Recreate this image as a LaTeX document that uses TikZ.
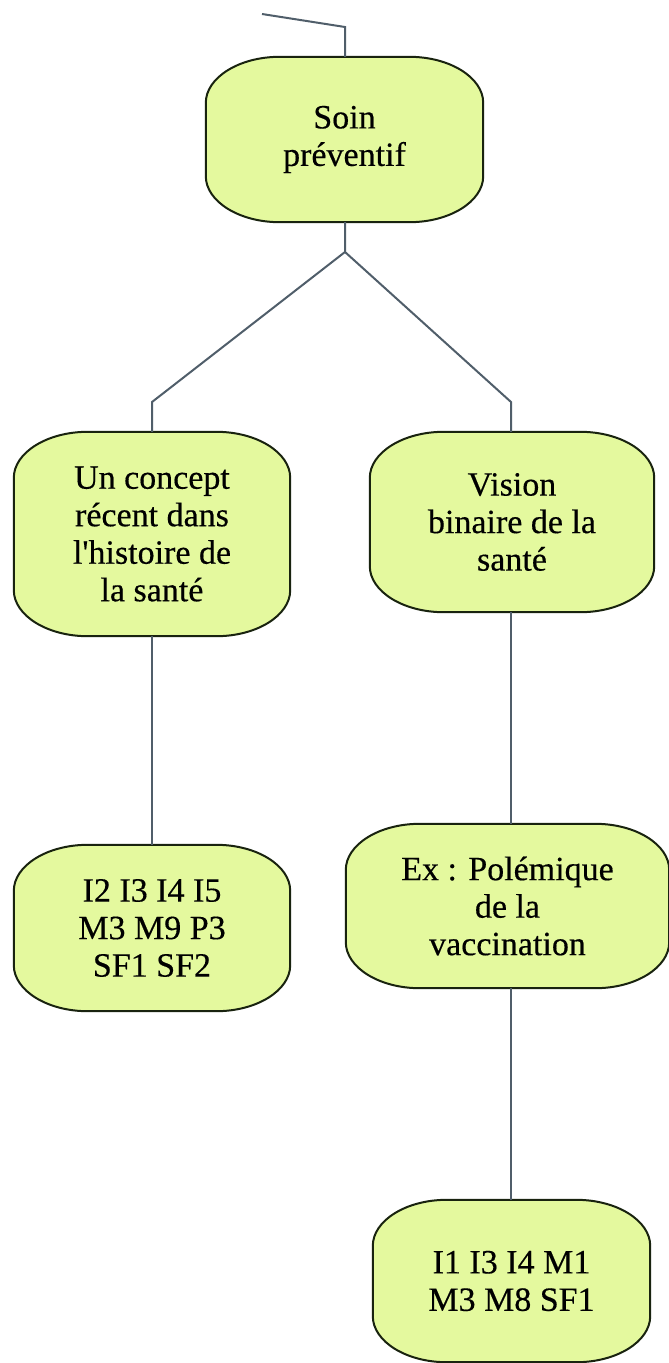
\documentclass[tikz,border=0pt]{standalone}
\usepackage{fontspec}
\setmainfont{Liberation Serif}
\newfontfamily\boxfont[FakeBold=0.4]{Liberation Serif}
\usetikzlibrary{backgrounds}
\definecolor{boxfill}{RGB}{228,249,158}
\definecolor{boxline}{RGB}{25,35,15}
\definecolor{linkc}{RGB}{80,94,106}
\newcommand\eboxshape[1]{%
  \begin{scope}[on background layer]
  \path[boxshape] ([xshift=74pt]#1.north west) -- ([xshift=-74pt]#1.north east)
    .. controls ([xshift=-33pt]#1.north east) and ([yshift=-21pt]#1.north east) .. ([yshift=-46pt]#1.north east)
    -- ([yshift=46pt]#1.south east)
    .. controls ([yshift=21pt]#1.south east) and ([xshift=-33pt]#1.south east) .. ([xshift=-74pt]#1.south east)
    -- ([xshift=74pt]#1.south west)
    .. controls ([xshift=33pt]#1.south west) and ([yshift=21pt]#1.south west) .. ([yshift=46pt]#1.south west)
    -- ([yshift=-46pt]#1.north west)
    .. controls ([yshift=-21pt]#1.north west) and ([xshift=33pt]#1.north west) .. cycle;
  \end{scope}}
\begin{document}
\begin{tikzpicture}[x=1pt,y=-1pt,
  cbox/.style={draw=none,align=center,inner sep=0pt,font=\boxfont\fontsize{34}{37.5}\selectfont},
  boxshape/.style={draw=boxline,line width=2pt,fill=boxfill},
  link/.style={draw=linkc,line width=2pt}]
\useasboundingbox (0,0) rectangle (669,1363);
\node[cbox,minimum width=277pt,minimum height=165pt] (soin) at (344.5,139.5) {Soin\\préventif};
\node[cbox,minimum width=276pt,minimum height=204pt] (concept) at (152,534) {Un concept\\récent dans\\l\textquotesingle histoire de\\la santé};
\node[cbox,minimum width=284pt,minimum height=180pt] (vision) at (512,522) {Vision\\binaire de la\\santé};
\node[cbox,minimum width=276pt,minimum height=166pt] (codesA) at (152,928) {I2 I3 I4 I5\\M3 M9 P3\\SF1 SF2};
\node[cbox,minimum width=323pt,minimum height=164pt] (ex) at (507.5,906) {Ex : Polémique\\de la\\vaccination};
\node[cbox,minimum width=277pt,minimum height=162pt] (codesB) at (511.5,1281) {I1 I3 I4 M1\\M3 M8 SF1};
\foreach \n in {soin,concept,vision,codesA,ex,codesB} {\eboxshape{\n}}
\coordinate (top0) at (262,14);
\coordinate (top1) at (345,27);
\coordinate (j) at (345,252);
\coordinate (jl) at (152,402);
\coordinate (jr) at (511,402);
\draw[link] (top0) -- (top1) -- (top1 |- soin.north);
\draw[link] (soin.south -| j) -- (j) -- (jl) -- (jl |- concept.north);
\draw[link] (j) -- (jr) -- (jr |- vision.north);
\draw[link] (concept.south) -- (codesA.north);
\draw[link] (vision.south -| jr) -- (jr |- ex.north);
\draw[link] (ex.south -| jr) -- (jr |- codesB.north);
\end{tikzpicture}
\end{document}
